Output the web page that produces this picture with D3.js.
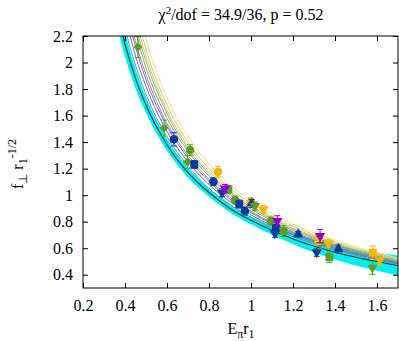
<!DOCTYPE html>
<html>
<head>
<meta charset="utf-8">
<script src="https://cdn.jsdelivr.net/npm/d3@7"></script>
<style>
  html, body { margin: 0; padding: 0; background: #fff; }
</style>
</head>
<body>
<svg id="chart" width="399" height="341"></svg>
<script>
/* f_perp fit plot — fit band, family of fit curves, lattice points */

const xTicks = [0.2, 0.4, 0.6, 0.8, 1.0, 1.2, 1.4, 1.6];
const yTicks = [0.4, 0.6, 0.8, 1.0, 1.2, 1.4, 1.6, 1.8, 2.0, 2.2];

const knotE = [0.35, 0.4, 0.45, 0.5, 0.6, 0.7, 0.8, 0.9, 1.0, 1.2, 1.4, 1.7];

// central fit + error band
const fitMid = [2.48, 2.14, 1.88, 1.68, 1.38, 1.17, 1.02, 0.90, 0.81, 0.67, 0.57, 0.47];
const fitLo  = [2.35, 2.045, 1.805, 1.62, 1.335, 1.134, 0.988, 0.87, 0.78, 0.63, 0.515, 0.395];
const fitHi  = [2.61, 2.235, 1.955, 1.74, 1.425, 1.206, 1.052, 0.93, 0.84, 0.71, 0.625, 0.545];

// thin per-ensemble curves
const curveColors = ["#6f8fae", "#5b7b9b", "#9b59d0", "#7a92aa", "#8aa070",
                     "#8cc060", "#c8c880", "#f0c860", "#f8dc98"];
const curveVals = [
  [2.64, 2.26, 1.98, 1.76, 1.44, 1.22, 1.05, 0.93, 0.833, 0.688, 0.586, 0.478],
  [2.77, 2.36, 2.05, 1.82, 1.48, 1.25, 1.08, 0.952, 0.851, 0.702, 0.597, 0.485],
  [2.88, 2.44, 2.12, 1.87, 1.52, 1.28, 1.104, 0.971, 0.868, 0.714, 0.607, 0.491],
  [2.95, 2.50, 2.16, 1.91, 1.54, 1.30, 1.12, 0.983, 0.878, 0.722, 0.613, 0.495],
  [3.07, 2.58, 2.23, 1.96, 1.58, 1.33, 1.143, 1.003, 0.895, 0.734, 0.623, 0.501],
  [3.16, 2.65, 2.28, 2.01, 1.615, 1.35, 1.162, 1.019, 0.908, 0.745, 0.631, 0.506],
  [3.24, 2.71, 2.33, 2.05, 1.64, 1.37, 1.18, 1.033, 0.920, 0.754, 0.639, 0.510],
  [3.36, 2.80, 2.40, 2.10, 1.68, 1.40, 1.20, 1.052, 0.937, 0.766, 0.649, 0.517],
  [3.51, 2.915, 2.49, 2.175, 1.735, 1.443, 1.235, 1.079, 0.959, 0.783, 0.662, 0.525]
];

// data points: one list per (colour, marker) series — [E, f, err]
const GREEN = "#5e9c28", BLUE = "#0b3c9c", GOLD = "#f2b705", PURPLE = "#9400d3";
const series = [
  { color: GREEN,  shape: "diamond", pts: [[0.462, 2.117, 0.08], [0.586, 1.506, 0.06], [0.697, 1.25, 0.05]] },
  { color: BLUE,   shape: "circle",  pts: [[0.633, 1.421, 0.05], [0.821, 1.101, 0.03], [0.971, 0.880, 0.03]] },
  { color: GREEN,  shape: "circle",  pts: [[0.71, 1.34, 0.04], [0.924, 0.963, 0.03], [1.095, 0.805, 0.03]] },
  { color: BLUE,   shape: "square",  pts: [[0.730, 1.232, 0.03], [0.944, 0.933, 0.03], [1.119, 0.750, 0.03]] },
  { color: GOLD,   shape: "circle",  pts: [[0.843, 1.177, 0.04], [1.0, 0.95, 0.03]] },
  { color: GREEN,  shape: "square",  pts: [[0.892, 1.044, 0.03], [1.154, 0.729, 0.04], [1.373, 0.531, 0.04]] },
  { color: BLUE,   shape: "tridown", pts: [[0.862, 1.018, 0.03], [1.114, 0.712, 0.03], [1.313, 0.569, 0.03]] },
  { color: BLUE,   shape: "triup",   pts: [[1.003, 0.938, 0.03], [1.225, 0.705, 0.02], [1.416, 0.594, 0.03]] },
  { color: GREEN,  shape: "tridown", pts: [[1.019, 0.918, 0.03], [1.33, 0.637, 0.04], [1.578, 0.453, 0.05]] },
  { color: GOLD,   shape: "tridown", pts: [[1.059, 0.893, 0.03], [1.368, 0.637, 0.03], [1.614, 0.511, 0.04]] },
  { color: GOLD,   shape: "square",  pts: [[1.321, 0.667, 0.04], [1.58, 0.566, 0.05]] },
  { color: PURPLE, shape: "tridown", pts: [[0.876, 1.051, 0.03], [1.125, 0.805, 0.04], [1.329, 0.692, 0.05]] }
];

const SERIF = "'Liberation Serif', 'Times New Roman', Times, serif";
const L = 83, R = 398, T = 36, B = 288;
const svg = d3.select("#chart").attr("font-family", SERIF);
svg.append("rect").attr("width", 399).attr("height", 341).attr("fill", "#fff");

const x = d3.scaleLinear().domain([0.2, 1.7]).range([L, R]);
const y = d3.scaleLinear().domain([0.3, 2.2]).range([B, T]);

svg.append("defs").append("clipPath").attr("id", "clip")
  .append("rect").attr("x", L).attr("y", T).attr("width", R - L).attr("height", B - T);

const plot = svg.append("g").attr("clip-path", "url(#clip)");

// band
const area = d3.area()
  .x((d, i) => x(knotE[i]))
  .y0((d, i) => y(fitLo[i]))
  .y1((d, i) => y(fitHi[i]))
  .curve(d3.curveMonotoneX);
plot.append("path").datum(knotE).attr("d", area).attr("fill", "#00f0f0");

const line = d3.line()
  .x((d, i) => x(knotE[i]))
  .y(d => y(d))
  .curve(d3.curveMonotoneX);

plot.append("path").datum(fitMid).attr("d", line)
  .attr("fill", "none").attr("stroke", "#0d3535").attr("stroke-width", 1.1);

plot.selectAll("path.fam").data(curveVals).join("path")
  .attr("class", "fam").attr("d", line)
  .attr("fill", "none")
  .attr("stroke", (d, i) => curveColors[i])
  .attr("stroke-width", 1);

// points
const symType = { circle: d3.symbolCircle, square: d3.symbolSquare, diamond: d3.symbolSquare,
                  triup: d3.symbolTriangle, tridown: d3.symbolTriangle };
const symSize = { circle: 58, square: 62, diamond: 40, triup: 46, tridown: 46 };
const symRot  = { circle: 0, square: 0, diamond: 45, triup: 0, tridown: 180 };

series.forEach(s => {
  const g = plot.append("g");
  s.pts.forEach(([e, f, err]) => {
    const px = x(e), y0 = y(f - err), y1 = y(f + err);
    g.append("line").attr("x1", px).attr("x2", px).attr("y1", y0).attr("y2", y1)
      .attr("stroke", s.color).attr("stroke-width", 1);
    [y0, y1].forEach(cy => g.append("line")
      .attr("x1", px - 3).attr("x2", px + 3).attr("y1", cy).attr("y2", cy)
      .attr("stroke", s.color).attr("stroke-width", 1));
    g.append("path")
      .attr("d", d3.symbol(symType[s.shape], symSize[s.shape])())
      .attr("transform", `translate(${px},${y(f)}) rotate(${symRot[s.shape]})`)
      .attr("fill", s.color);
  });
});

// axes: gnuplot-style inward ticks on all four sides
const fmt = d => String(+d.toFixed(1));
const axes = [
  [d3.axisBottom(x).tickValues(xTicks).tickFormat(fmt).tickPadding(12), `translate(0,${B})`],
  [d3.axisTop(x).tickValues(xTicks).tickFormat(""), `translate(0,${T})`],
  [d3.axisLeft(y).tickValues(yTicks).tickFormat(fmt).tickPadding(10), `translate(${L},0)`],
  [d3.axisRight(y).tickValues(yTicks).tickFormat(""), `translate(${R},0)`]
];
axes.forEach(([ax, tr]) => {
  const g = svg.append("g").attr("transform", tr)
    .call(ax.tickSizeInner(-5).tickSizeOuter(0))
    .attr("font-family", SERIF).attr("font-size", 16);
  g.select(".domain").remove();
  g.selectAll("line").attr("stroke", "#000");
});

svg.append("rect").attr("x", L).attr("y", T).attr("width", R - L).attr("height", B - T)
  .attr("fill", "none").attr("stroke", "#000").attr("stroke-width", 1);

// title
const title = svg.append("text").attr("x", 241).attr("y", 20)
  .attr("text-anchor", "middle").attr("font-size", 16);
title.append("tspan").text("χ");
title.append("tspan").attr("font-size", 11).attr("dy", -6).text("2");
title.append("tspan").attr("dy", 6).text("/dof = 34.9/36, p = 0.52");

// x label
const xl = svg.append("text").attr("x", 241).attr("y", 334)
  .attr("text-anchor", "middle").attr("font-size", 16);
xl.append("tspan").text("E");
xl.append("tspan").attr("font-size", 12).attr("dy", 4).text("π");
xl.append("tspan").attr("dy", -4).text("r");
xl.append("tspan").attr("font-size", 12).attr("dy", 4).text("1");

// y label
const yl = svg.append("text").attr("transform", "translate(23,164) rotate(-90)")
  .attr("text-anchor", "middle").attr("font-size", 16);
yl.append("tspan").text("f");
yl.append("tspan").attr("font-size", 12).attr("dy", 4).text("⊥");
yl.append("tspan").attr("dy", -4).text(" r");
yl.append("tspan").attr("font-size", 12).attr("dy", 4).text("1");
yl.append("tspan").attr("font-size", 12).attr("dy", -11).text("-1/2");
</script>
</body>
</html>
